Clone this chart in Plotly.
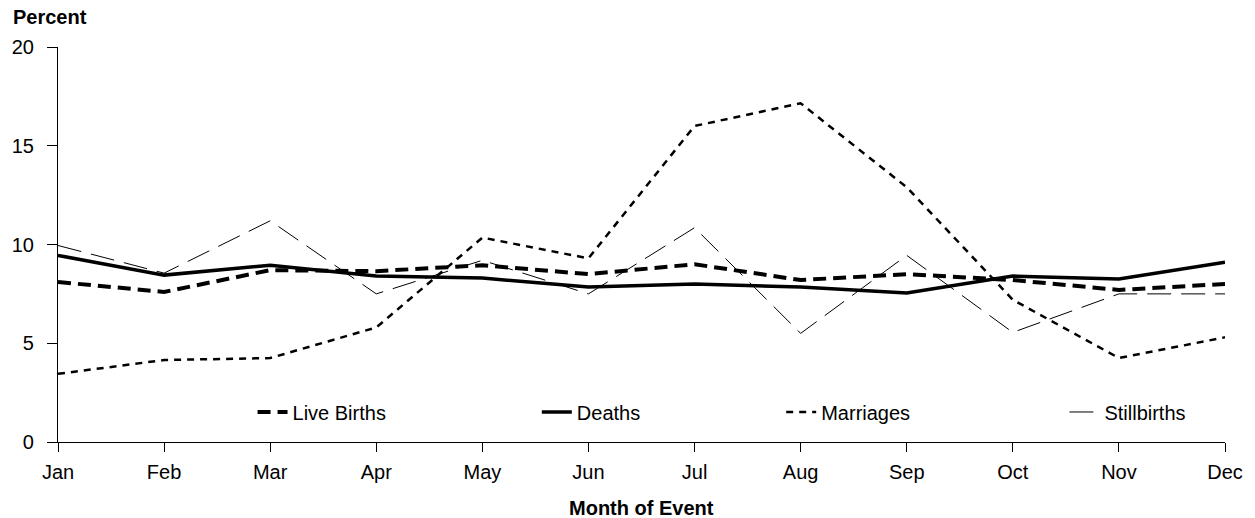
import plotly.graph_objects as go

months = ["Jan", "Feb", "Mar", "Apr", "May", "Jun", "Jul", "Aug", "Sep", "Oct", "Nov", "Dec"]
live_births = [8.1, 7.6, 8.7, 8.65, 8.95, 8.5, 9.0, 8.2, 8.5, 8.2, 7.7, 8.0]
deaths = [9.45, 8.45, 8.95, 8.4, 8.3, 7.85, 8.0, 7.85, 7.55, 8.4, 8.25, 9.1]
marriages = [3.45, 4.15, 4.25, 5.8, 10.35, 9.3, 16.0, 17.15, 12.9, 7.2, 4.25, 5.3]
stillbirths = [9.95, 8.55, 11.2, 7.5, 9.2, 7.5, 10.85, 5.5, 9.45, 5.55, 7.5, 7.5]

FONT = "Arial, Liberation Sans, sans-serif"

fig = go.Figure()
series = [
    ("Live Births", live_births, dict(color="black", width=4, dash="13px,7px"), "legend", 0.1667),
    ("Deaths", deaths, dict(color="black", width=3.5, dash="solid"), "legend2", 0.4103),
    ("Marriages", marriages, dict(color="black", width=2.5, dash="7px,6px"), "legend3", 0.6197),
    ("Stillbirths", stillbirths, dict(color="black", width=1, dash="24px,10px"), "legend4", 0.8624),
]
legend_layout = {}
for name, vals, line, lg, lx in series:
    fig.add_trace(go.Scatter(x=months, y=vals, mode="lines", name=name, line=line, legend=lg))
    legend_layout[lg] = dict(
        x=lx, y=0.076, xanchor="left", yanchor="middle", orientation="h",
        font=dict(family=FONT, size=20, color="black"),
        bgcolor="rgba(0,0,0,0)", borderwidth=0,
    )

fig.update_layout(
    width=1255, height=518,
    margin=dict(l=58, r=27, t=47, b=76),
    paper_bgcolor="white", plot_bgcolor="white",
    font=dict(family=FONT, size=20, color="black"),
    showlegend=True,
    xaxis=dict(
        type="category", range=[0, 11], showgrid=False, zeroline=False,
        showline=True, linecolor="black", linewidth=1.2,
        ticks="outside", ticklen=9, tickcolor="black", tickwidth=1.2,
        tickfont=dict(family=FONT, size=20), ticklabelstandoff=3,
    ),
    yaxis=dict(
        range=[0, 20], tickvals=[0, 5, 10, 15, 20], showgrid=False, zeroline=False,
        showline=True, linecolor="black", linewidth=1.2,
        ticks="outside", ticklen=10, tickcolor="black", tickwidth=1.2,
        tickfont=dict(family=FONT, size=20), ticklabelstandoff=9,
    ),
    annotations=[
        dict(text="<b>Percent</b>", xref="paper", yref="paper", x=-0.0405, y=1.076,
             xanchor="left", yanchor="middle", showarrow=False,
             font=dict(family=FONT, size=20, color="black")),
        dict(text="<b>Month of Event</b>", xref="paper", yref="paper", x=0.5, y=-0.167,
             xanchor="center", yanchor="middle", showarrow=False,
             font=dict(family=FONT, size=20, color="black")),
    ],
    **legend_layout,
)

fig.write_html("out.html", config={"displayModeBar": False},
               post_script="document.body.style.margin='0';")
